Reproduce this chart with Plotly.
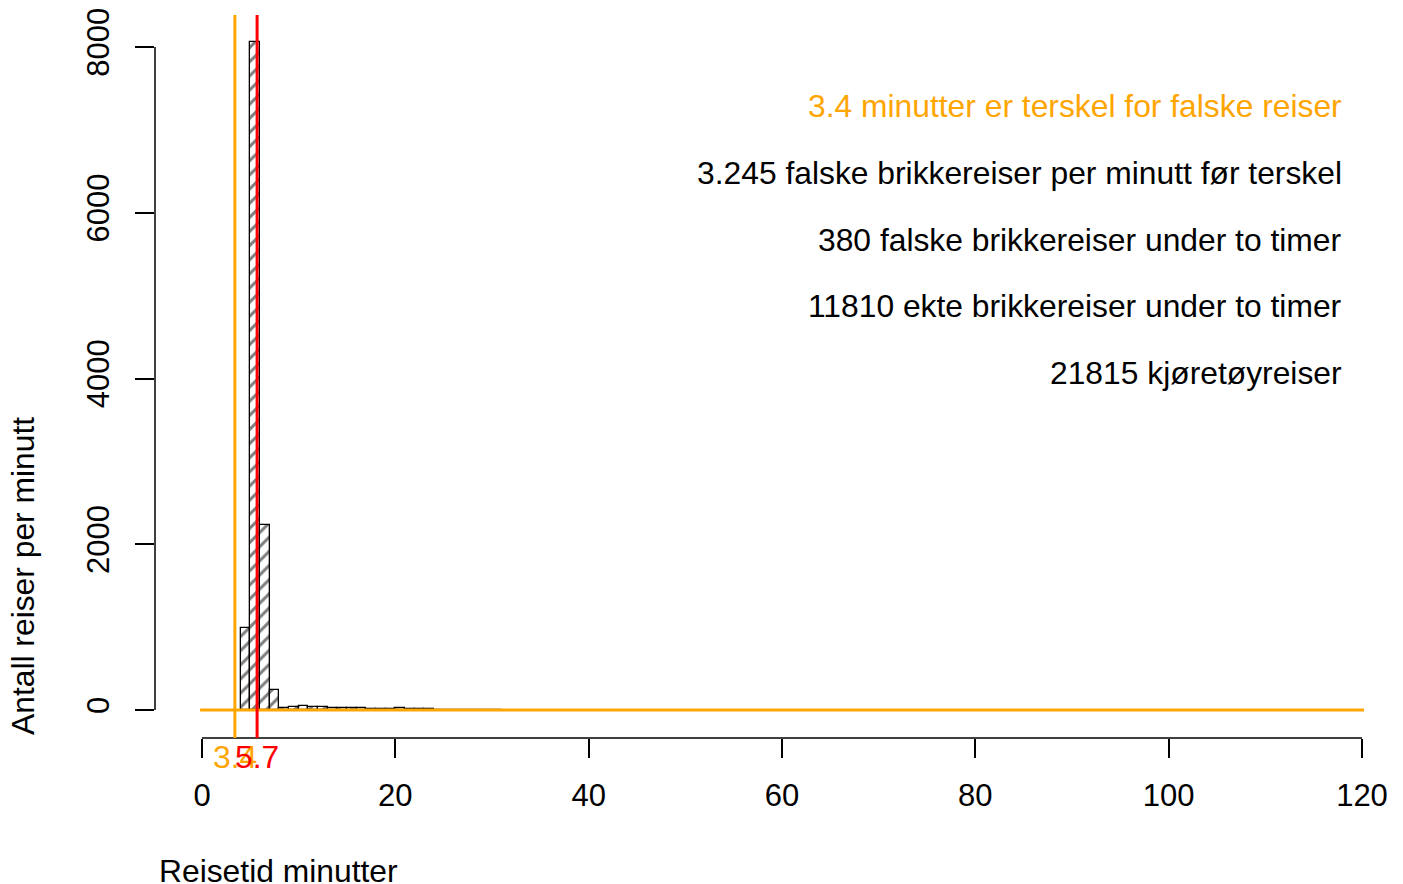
import plotly.graph_objects as go

# ---- data ----
bin_left = list(range(4, 31))
counts = [989, 8060, 2230, 240, 30, 35, 45, 40, 35, 30, 28, 22, 25, 15, 12, 15,
          20, 10, 8, 8, 6, 5, 5, 4, 4, 3, 3]
x_ticks = [0, 20, 40, 60, 80, 100, 120]
y_ticks = [0, 2000, 4000, 6000, 8000]
threshold = 3.4
peak = 5.7
legend_lines = [
    ("3.4 minutter er terskel for falske reiser", "#FFA500"),
    ("3.245 falske brikkereiser per minutt før terskel", "black"),
    ("380 falske brikkereiser under to timer", "black"),
    ("11810 ekte brikkereiser under to timer", "black"),
    ("21815 kjøretøyreiser", "black"),
]
x_title = "Reisetid minutter"
y_title = "Antall reiser per minutt"

# ---- layout geometry (body margin removed via post_script) ----
W, H = 1403, 884
L, T, R = 155, 15, 3
BOT = 738
B = H - BOT
pw, ph = W - L - R, H - T - B
xs = 1160 / 120.0
x0 = -(202 - L) / xs
x1 = x0 + pw / xs
ys = 663 / 8000.0
y0 = -(BOT - 710) / ys
y1 = y0 + ph / ys

def px_x(p):
    return (p - L) / pw

def px_y(p):
    return (BOT - p) / ph

FONT = "Liberation Sans, Arial, Helvetica, sans-serif"
FS = 31
FA = 31.8

fig = go.Figure()
fig.add_trace(go.Bar(
    x=[b + 0.5 for b in bin_left], y=counts, width=1,
    marker=dict(color="white", line=dict(color="black", width=1.3),
                pattern=dict(shape="/", fgcolor="black", bgcolor="white",
                             size=10, solidity=0.3)),
    showlegend=False, hoverinfo="skip"))

shapes = [
    dict(type="line", xref="x", yref="paper", x0=0, x1=120, y0=0, y1=0,
         line=dict(color="black", width=1.5)),
    dict(type="line", xref="paper", yref="y", x0=0, x1=0, y0=0, y1=8000,
         line=dict(color="black", width=1.5)),
    dict(type="line", xref="x", yref="y", x0=-0.2, x1=120.2, y0=0, y1=0,
         line=dict(color="#FFA500", width=3)),
    dict(type="line", xref="x", yref="paper", x0=threshold, x1=threshold, y0=0, y1=1,
         line=dict(color="#FFA500", width=3)),
    dict(type="line", xref="x", yref="paper", x0=peak, x1=peak, y0=0, y1=1,
         line=dict(color="red", width=3)),
]

ann = []
for i, (txt, col) in enumerate(legend_lines):
    ypx = 106 + i * 66.75
    ann.append(dict(text=txt, xref="paper", yref="paper", x=px_x(1344), y=px_y(ypx),
                    xanchor="right", yanchor="middle", showarrow=False,
                    font=dict(color=col, size=FA, family=FONT)))
ann.append(dict(text=f"{threshold}", xref="x", yref="paper", x=threshold, y=px_y(757),
                xanchor="center", yanchor="middle", showarrow=False,
                font=dict(color="#FFA500", size=FA, family=FONT)))
ann.append(dict(text=f"{peak}", xref="x", yref="paper", x=peak, y=px_y(757),
                xanchor="center", yanchor="middle", showarrow=False,
                font=dict(color="red", size=FA, family=FONT)))
ann.append(dict(text=x_title, xref="paper", yref="paper", x=px_x(157), y=px_y(871),
                xanchor="left", yanchor="middle", showarrow=False, height=24,
                font=dict(color="black", size=FA, family=FONT)))
ann.append(dict(text=y_title, xref="paper", yref="paper", x=px_x(23), y=px_y(576),
                xanchor="center", yanchor="middle", textangle=-90, showarrow=False,
                font=dict(color="black", size=FA, family=FONT)))

fig.update_layout(
    width=W, height=H,
    margin=dict(l=L, r=R, t=T, b=B, pad=0),
    paper_bgcolor="white", plot_bgcolor="white",
    shapes=shapes, annotations=ann,
    bargap=0,
    xaxis=dict(range=[x0, x1], tickvals=x_ticks, ticktext=[str(v) for v in x_ticks],
               ticks="outside", ticklen=19, tickwidth=1.5, tickcolor="black",
               showline=False, showgrid=False, zeroline=False, ticklabeloverflow="allow",
               tickfont=dict(size=FS, family=FONT, color="black"), ticklabelstandoff=11),
    yaxis=dict(range=[y0, y1], tickvals=y_ticks, ticktext=[str(v) for v in y_ticks],
               ticks="outside", ticklen=19, tickwidth=1.5, tickcolor="black",
               showline=False, showgrid=False, zeroline=False, tickangle=-90,
               ticklabeloverflow="allow",
               tickfont=dict(size=FS, family=FONT, color="black"), ticklabelstandoff=14),
)

fig.write_html("out.html", config={"displayModeBar": False},
               post_script="document.body.style.margin='0';document.body.style.overflow='hidden';")
